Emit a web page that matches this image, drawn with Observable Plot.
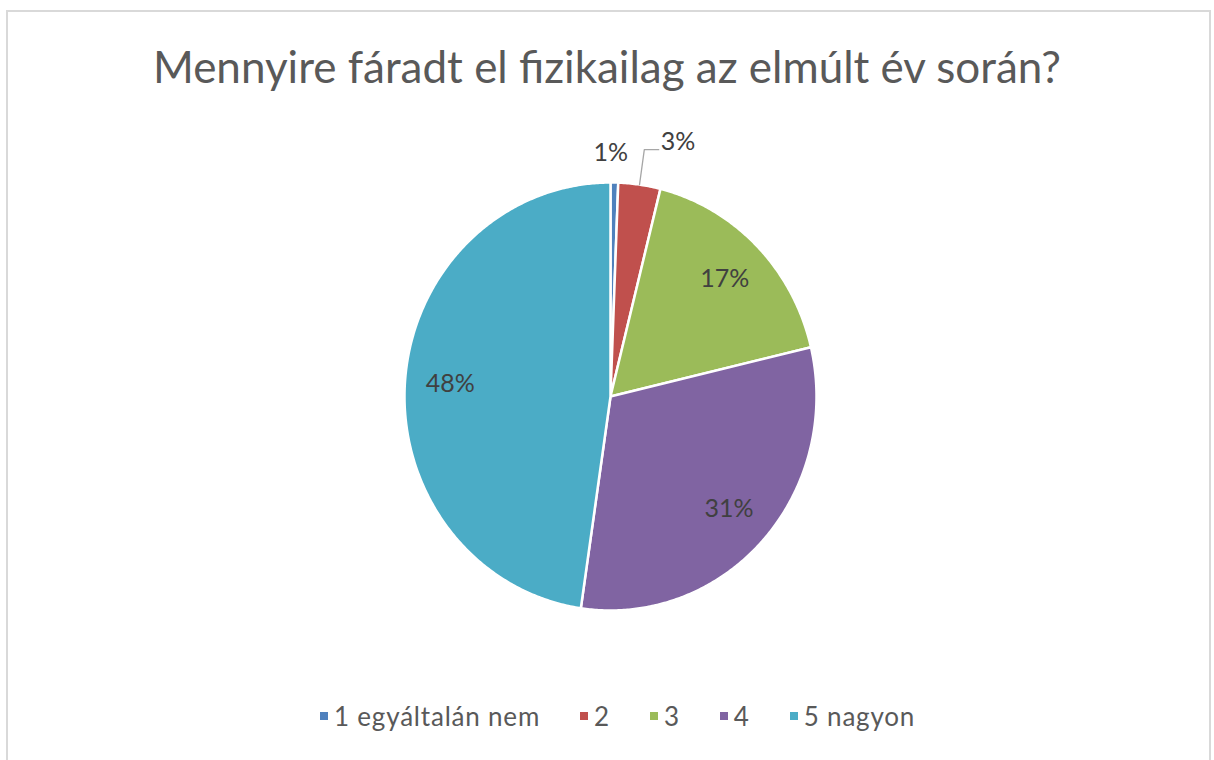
<!DOCTYPE html>
<html>
<head>
<meta charset="utf-8">
<script src="https://cdn.jsdelivr.net/npm/d3@7"></script>
<script src="https://cdn.jsdelivr.net/npm/@observablehq/plot@0.6"></script>
<style>
  html, body { margin: 0; padding: 0; background: #fff; width: 1214px; height: 760px; overflow: hidden; }
  #frame { position: absolute; left: 6px; top: 10px; width: 1205px; height: 760px; box-sizing: border-box;
           border: 2px solid #d9d9d9; border-bottom: none; }
  #title { position: absolute; left: 0; width: 1214px; top: 40px; text-align: center;
           font-family: Lato, "Open Sans", sans-serif; font-size: 44px; color: #595959; white-space: nowrap; }
  #chart { position: absolute; left: 0; top: 120px; }
  #legend { position: absolute; left: 320px; top: 700px; display: flex; align-items: center;
            font-family: Lato, "Open Sans", sans-serif; font-size: 26px; letter-spacing: 0.8px; color: #595959; white-space: nowrap; }
  .item { display: flex; align-items: center; margin-right: 40px; }
  .sw { width: 8px; height: 8px; margin-right: 6px; }
</style>
</head>
<body>
<div id="frame"></div>
<div id="title">Mennyire fáradt el fizikailag az elmúlt év során?</div>
<div id="chart"></div>
<div id="legend"></div>
<script>
// ---- data ----
const categories = ["1 egyáltalán nem", "2", "3", "4", "5 nagyon"];
const shares = [0.6, 3.3, 17.4, 31.0, 47.7];   // percent
const colors = ["#4F81BD", "#C0504D", "#9BBB59", "#8064A2", "#4BACC6"];

// ---- geometry (unit circle, angles clockwise from 12 o'clock) ----
const arcs = d3.pie().sort(null).value(d => d)(shares);
const slicePts = [];
arcs.forEach((p, i) => {
  const cat = categories[i];
  slicePts.push({cat, x: 0, y: 0});
  const n = Math.max(2, Math.ceil((p.endAngle - p.startAngle) / (Math.PI / 360)));
  for (let k = 0; k <= n; k++) {
    const a = p.startAngle + (p.endAngle - p.startAngle) * k / n;
    slicePts.push({cat, x: Math.sin(a), y: Math.cos(a)});
  }
  slicePts.push({cat, x: 0, y: 0});
});

const labels = [];
const leaders = [];
arcs.forEach((p, i) => {
  const mid = (p.startAngle + p.endAngle) / 2;
  const text = Math.round(shares[i]) + "%";
  const small = shares[i] < 5;
  const prevSmall = i > 0 && shares[i - 1] < 5;
  if (!small) {
    labels.push({text, x: Math.sin(mid) * 0.78, y: Math.cos(mid) * 0.78, lead: false});
  } else if (!prevSmall) {
    labels.push({text, x: Math.sin(mid) * 1.14 - 0.02, y: Math.cos(mid) * 1.14, lead: false});
  } else {
    const ex = Math.sin(mid), ey = Math.cos(mid);
    const bx = Math.sin(mid) * 1.165, by = Math.cos(mid) * 1.165;
    const tx = bx + 0.07;
    leaders.push({k: i, x: ex, y: ey}, {k: i, x: bx, y: by}, {k: i, x: tx, y: by});
    labels.push({text, x: tx + 0.01, y: by, lead: true});
  }
});

const cx = 610, cy = 276, rx = 206, ry = 214;
const plot = Plot.plot({
  width: 1214,
  height: 540,
  margin: 0,
  x: {domain: [-1, 1], range: [cx - rx, cx + rx], axis: null},
  y: {domain: [-1, 1], range: [cy + ry, cy - ry], axis: null},
  color: {domain: categories, range: colors},
  style: {background: "transparent", overflow: "visible"},
  marks: [
    Plot.line(slicePts, {x: "x", y: "y", z: "cat", fill: "cat", stroke: "white",
      strokeWidth: 2.5, strokeLinejoin: "round", curve: "linear"}),
    Plot.line(leaders, {x: "x", y: "y", z: "k", stroke: "#a6a6a6", strokeWidth: 1.3}),
    Plot.text(labels.filter(d => !d.lead), {x: "x", y: "y", text: "text", textAnchor: "middle",
      fontSize: 25, fill: "#404040", fontFamily: "Lato, 'Open Sans', sans-serif"}),
    Plot.text(labels.filter(d => d.lead), {x: "x", y: "y", text: "text", textAnchor: "start", dy: -8,
      fontSize: 25, fill: "#404040", fontFamily: "Lato, 'Open Sans', sans-serif"})
  ]
});
document.getElementById("chart").appendChild(plot);

// legend
const lg = document.getElementById("legend");
categories.forEach((c, i) => {
  const it = document.createElement("div");
  it.className = "item";
  const sw = document.createElement("div");
  sw.className = "sw";
  sw.style.background = colors[i];
  const t = document.createElement("span");
  t.textContent = c;
  it.appendChild(sw); it.appendChild(t);
  lg.appendChild(it);
});
</script>
</body>
</html>
